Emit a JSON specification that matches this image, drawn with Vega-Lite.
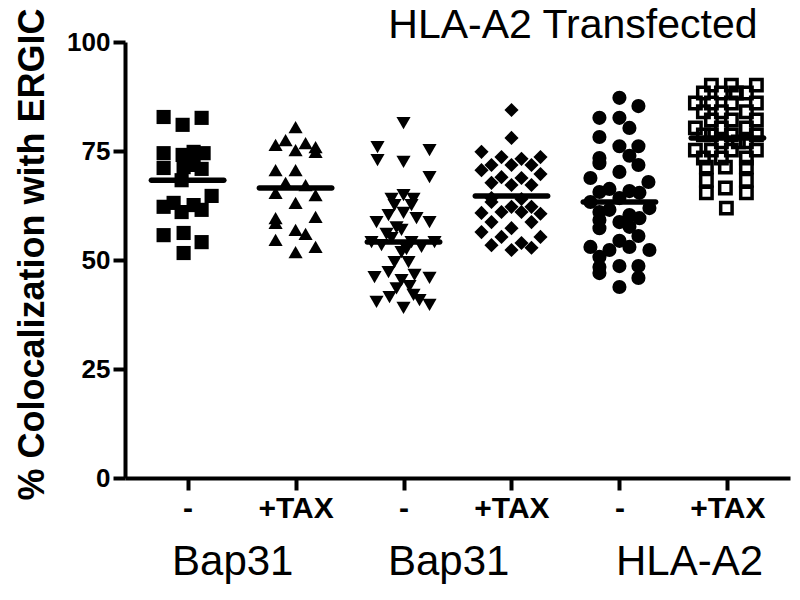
{
  "$schema": "https://vega.github.io/schema/vega-lite/v6.json",
  "width": 665,
  "height": 436,
  "autosize": {"type": "none"},
  "padding": {"left": 125, "top": 42, "right": 10, "bottom": 122},
  "background": "white",
  "config": {
    "view": {"stroke": null},
    "axis": {"domainColor": "black", "domainWidth": 4, "tickColor": "black", "tickWidth": 4, "tickSize": 12, "labelFont": "Liberation Sans", "labelFontWeight": "bold", "labelColor": "black", "grid": false, "titleFont": "Liberation Sans", "titleColor": "black"}
  },
  "datasets": {
    "points": [
      {"group": "B1 -", "dx": -2.4, "value": 82.8}, {"group": "B1 -", "dx": -0.5, "value": 81.0}, {"group": "B1 -", "dx": 1.4, "value": 82.6},
      {"group": "B1 -", "dx": -2.4, "value": 74.5}, {"group": "B1 -", "dx": -0.5, "value": 74.1}, {"group": "B1 -", "dx": 0.6, "value": 74.8}, {"group": "B1 -", "dx": 1.6, "value": 74.5},
      {"group": "B1 -", "dx": -2.4, "value": 71.1}, {"group": "B1 -", "dx": -0.4, "value": 71.3}, {"group": "B1 -", "dx": 0.6, "value": 71.8}, {"group": "B1 -", "dx": 1.4, "value": 70.9},
      {"group": "B1 -", "dx": -0.6, "value": 68.3}, {"group": "B1 -", "dx": 2.4, "value": 64.7}, {"group": "B1 -", "dx": -2.4, "value": 62.2}, {"group": "B1 -", "dx": -1.4, "value": 63.1},
      {"group": "B1 -", "dx": -0.6, "value": 61.0}, {"group": "B1 -", "dx": 0.6, "value": 62.6}, {"group": "B1 -", "dx": 1.4, "value": 61.5}, {"group": "B1 -", "dx": -2.4, "value": 55.7},
      {"group": "B1 -", "dx": -0.4, "value": 56.2}, {"group": "B1 -", "dx": 1.4, "value": 54.1}, {"group": "B1 -", "dx": -0.4, "value": 51.6},

      {"group": "B1 +TAX", "dx": 0, "value": 80.5}, {"group": "B1 +TAX", "dx": -2, "value": 76.4}, {"group": "B1 +TAX", "dx": -1, "value": 77.5}, {"group": "B1 +TAX", "dx": 0, "value": 75.2},
      {"group": "B1 +TAX", "dx": 1, "value": 76.8}, {"group": "B1 +TAX", "dx": 2, "value": 75.9}, {"group": "B1 +TAX", "dx": 2, "value": 74.8}, {"group": "B1 +TAX", "dx": -2, "value": 70.6},
      {"group": "B1 +TAX", "dx": 0, "value": 70.6}, {"group": "B1 +TAX", "dx": -1, "value": 67.7}, {"group": "B1 +TAX", "dx": 1, "value": 67.2}, {"group": "B1 +TAX", "dx": -2, "value": 65.4},
      {"group": "B1 +TAX", "dx": 2, "value": 64.9}, {"group": "B1 +TAX", "dx": 0, "value": 63.1}, {"group": "B1 +TAX", "dx": 2, "value": 59.9}, {"group": "B1 +TAX", "dx": -2, "value": 59.6},
      {"group": "B1 +TAX", "dx": -2, "value": 58.5}, {"group": "B1 +TAX", "dx": 0, "value": 56.9}, {"group": "B1 +TAX", "dx": 1, "value": 56.0}, {"group": "B1 +TAX", "dx": -2, "value": 54.6},
      {"group": "B1 +TAX", "dx": 2, "value": 53.0}, {"group": "B1 +TAX", "dx": 0, "value": 51.8},

      {"group": "B2 -", "dx": 0, "value": 81.4}, {"group": "B2 -", "dx": -2.6, "value": 75.9}, {"group": "B2 -", "dx": -2.6, "value": 72.9}, {"group": "B2 -", "dx": 0, "value": 72.5},
      {"group": "B2 -", "dx": 2.6, "value": 75.2}, {"group": "B2 -", "dx": 2.6, "value": 69.0}, {"group": "B2 -", "dx": 0, "value": 64.9}, {"group": "B2 -", "dx": -0.9, "value": 62.6},
      {"group": "B2 -", "dx": 0.8, "value": 62.6}, {"group": "B2 -", "dx": -2.7, "value": 58.7}, {"group": "B2 -", "dx": -1.5, "value": 60.3}, {"group": "B2 -", "dx": 0, "value": 60.8},
      {"group": "B2 -", "dx": 1.3, "value": 59.6}, {"group": "B2 -", "dx": 2.6, "value": 58.7}, {"group": "B2 -", "dx": -0.2, "value": 56.9}, {"group": "B2 -", "dx": -3.2, "value": 54.1},
      {"group": "B2 -", "dx": -2.2, "value": 53.4}, {"group": "B2 -", "dx": -1.2, "value": 55.0}, {"group": "B2 -", "dx": 0.8, "value": 54.1}, {"group": "B2 -", "dx": 1.8, "value": 53.0},
      {"group": "B2 -", "dx": 3.1, "value": 54.1}, {"group": "B2 -", "dx": -0.2, "value": 51.8}, {"group": "B2 -", "dx": -0.9, "value": 49.5}, {"group": "B2 -", "dx": 0.5, "value": 49.5},
      {"group": "B2 -", "dx": -2.9, "value": 46.1}, {"group": "B2 -", "dx": -1.5, "value": 47.2}, {"group": "B2 -", "dx": -0.2, "value": 45.4}, {"group": "B2 -", "dx": 1.1, "value": 46.6},
      {"group": "B2 -", "dx": 2.6, "value": 45.9}, {"group": "B2 -", "dx": -2.7, "value": 40.4}, {"group": "B2 -", "dx": -1.4, "value": 41.5}, {"group": "B2 -", "dx": 0, "value": 39.0},
      {"group": "B2 -", "dx": 1.0, "value": 42.0}, {"group": "B2 -", "dx": 1.6, "value": 40.8}, {"group": "B2 -", "dx": 2.6, "value": 39.7}, {"group": "B2 -", "dx": -0.7, "value": 57.5},
      {"group": "B2 -", "dx": 0.3, "value": 52.5}, {"group": "B2 -", "dx": -1.2, "value": 64.0}, {"group": "B2 -", "dx": 1.0, "value": 64.0}, {"group": "B2 -", "dx": -1.7, "value": 56.0},
      {"group": "B2 -", "dx": -0.7, "value": 43.5}, {"group": "B2 -", "dx": 0.6, "value": 44.0},

      {"group": "B2 +TAX", "dx": 0, "value": 84.4}, {"group": "B2 +TAX", "dx": 0, "value": 78.0}, {"group": "B2 +TAX", "dx": -3, "value": 74.8}, {"group": "B2 +TAX", "dx": -1, "value": 73.6},
      {"group": "B2 +TAX", "dx": 0, "value": 71.8}, {"group": "B2 +TAX", "dx": 1, "value": 73.2}, {"group": "B2 +TAX", "dx": 2.9, "value": 73.6}, {"group": "B2 +TAX", "dx": -2, "value": 71.8},
      {"group": "B2 +TAX", "dx": -3, "value": 70.6}, {"group": "B2 +TAX", "dx": 2, "value": 71.8}, {"group": "B2 +TAX", "dx": 2.9, "value": 69.7}, {"group": "B2 +TAX", "dx": -1, "value": 69.0},
      {"group": "B2 +TAX", "dx": -2, "value": 67.7}, {"group": "B2 +TAX", "dx": 1, "value": 68.8}, {"group": "B2 +TAX", "dx": 0, "value": 67.2}, {"group": "B2 +TAX", "dx": 2, "value": 67.2},
      {"group": "B2 +TAX", "dx": -3, "value": 60.8}, {"group": "B2 +TAX", "dx": -2, "value": 58.7}, {"group": "B2 +TAX", "dx": -1, "value": 61.0}, {"group": "B2 +TAX", "dx": 0, "value": 62.2},
      {"group": "B2 +TAX", "dx": 1, "value": 61.0}, {"group": "B2 +TAX", "dx": 2, "value": 62.2}, {"group": "B2 +TAX", "dx": 2.9, "value": 60.6}, {"group": "B2 +TAX", "dx": -2, "value": 63.3},
      {"group": "B2 +TAX", "dx": 2, "value": 58.7}, {"group": "B2 +TAX", "dx": -3, "value": 56.4}, {"group": "B2 +TAX", "dx": -1, "value": 55.3}, {"group": "B2 +TAX", "dx": 0, "value": 57.3},
      {"group": "B2 +TAX", "dx": 2.9, "value": 55.3}, {"group": "B2 +TAX", "dx": -2, "value": 53.4}, {"group": "B2 +TAX", "dx": 0, "value": 52.3}, {"group": "B2 +TAX", "dx": 1, "value": 53.9},
      {"group": "B2 +TAX", "dx": 2, "value": 52.8}, {"group": "B2 +TAX", "dx": -2, "value": 64.2}, {"group": "B2 +TAX", "dx": 1, "value": 64.0},

      {"group": "A2 -", "dx": 0, "value": 87.2}, {"group": "A2 -", "dx": 1.9, "value": 85.3}, {"group": "A2 -", "dx": -2, "value": 82.6}, {"group": "A2 -", "dx": 0, "value": 82.6},
      {"group": "A2 -", "dx": 1, "value": 80.3}, {"group": "A2 -", "dx": -2, "value": 78.2}, {"group": "A2 -", "dx": 0, "value": 76.1}, {"group": "A2 -", "dx": 1.9, "value": 76.1},
      {"group": "A2 -", "dx": 1, "value": 73.9}, {"group": "A2 -", "dx": -2, "value": 73.4}, {"group": "A2 -", "dx": -2, "value": 72.2}, {"group": "A2 -", "dx": 1.9, "value": 71.8},
      {"group": "A2 -", "dx": 0, "value": 70.2}, {"group": "A2 -", "dx": -2.9, "value": 68.8}, {"group": "A2 -", "dx": 2.9, "value": 67.9}, {"group": "A2 -", "dx": -2, "value": 65.6},
      {"group": "A2 -", "dx": -1, "value": 66.3}, {"group": "A2 -", "dx": 1, "value": 65.8}, {"group": "A2 -", "dx": 2, "value": 65.4}, {"group": "A2 -", "dx": 0, "value": 64.2},
      {"group": "A2 -", "dx": -2.9, "value": 63.3}, {"group": "A2 -", "dx": 3, "value": 61.9}, {"group": "A2 -", "dx": -2, "value": 61.0}, {"group": "A2 -", "dx": -1, "value": 61.5},
      {"group": "A2 -", "dx": 1, "value": 60.3}, {"group": "A2 -", "dx": 2, "value": 59.6}, {"group": "A2 -", "dx": -2, "value": 59.2}, {"group": "A2 -", "dx": 0, "value": 58.7},
      {"group": "A2 -", "dx": 1, "value": 57.6}, {"group": "A2 -", "dx": -2, "value": 57.3}, {"group": "A2 -", "dx": 1.9, "value": 55.5}, {"group": "A2 -", "dx": -2.9, "value": 53.0},
      {"group": "A2 -", "dx": 0, "value": 54.4}, {"group": "A2 -", "dx": -1, "value": 52.3}, {"group": "A2 -", "dx": 1, "value": 53.0}, {"group": "A2 -", "dx": 3, "value": 52.3},
      {"group": "A2 -", "dx": -2, "value": 50.7}, {"group": "A2 -", "dx": -2, "value": 48.4}, {"group": "A2 -", "dx": 0, "value": 48.6}, {"group": "A2 -", "dx": 1.9, "value": 48.6},
      {"group": "A2 -", "dx": -2, "value": 47.0}, {"group": "A2 -", "dx": 1.9, "value": 45.9}, {"group": "A2 -", "dx": 0, "value": 43.8},

      {"group": "A2 +TAX", "dx": -1.6, "value": 90.1}, {"group": "A2 +TAX", "dx": 0.4, "value": 90.1}, {"group": "A2 +TAX", "dx": 2.9, "value": 90.1},
      {"group": "A2 +TAX", "dx": -2.4, "value": 88.3}, {"group": "A2 +TAX", "dx": -0.6, "value": 88.3}, {"group": "A2 +TAX", "dx": 0.9, "value": 88.3}, {"group": "A2 +TAX", "dx": 1.9, "value": 88.3},
      {"group": "A2 +TAX", "dx": -3.2, "value": 86.0}, {"group": "A2 +TAX", "dx": -1.6, "value": 86.0}, {"group": "A2 +TAX", "dx": 0.4, "value": 86.0}, {"group": "A2 +TAX", "dx": 2.9, "value": 86.0},
      {"group": "A2 +TAX", "dx": -2.4, "value": 84.0}, {"group": "A2 +TAX", "dx": -0.6, "value": 84.0}, {"group": "A2 +TAX", "dx": 1.9, "value": 84.0},
      {"group": "A2 +TAX", "dx": -1.6, "value": 82.1}, {"group": "A2 +TAX", "dx": 0.4, "value": 82.1}, {"group": "A2 +TAX", "dx": 2.9, "value": 82.1},
      {"group": "A2 +TAX", "dx": -3.2, "value": 80.3}, {"group": "A2 +TAX", "dx": -0.6, "value": 80.3}, {"group": "A2 +TAX", "dx": 1.9, "value": 80.3},
      {"group": "A2 +TAX", "dx": -2.4, "value": 78.7}, {"group": "A2 +TAX", "dx": -1.6, "value": 78.7}, {"group": "A2 +TAX", "dx": 0.4, "value": 78.7}, {"group": "A2 +TAX", "dx": 2.9, "value": 78.7},
      {"group": "A2 +TAX", "dx": -0.6, "value": 77.1}, {"group": "A2 +TAX", "dx": 1.1, "value": 77.1}, {"group": "A2 +TAX", "dx": 1.9, "value": 77.1},
      {"group": "A2 +TAX", "dx": -3.2, "value": 75.2}, {"group": "A2 +TAX", "dx": -1.6, "value": 75.2}, {"group": "A2 +TAX", "dx": 0.4, "value": 75.2}, {"group": "A2 +TAX", "dx": 2.9, "value": 75.2},
      {"group": "A2 +TAX", "dx": -2.4, "value": 73.4}, {"group": "A2 +TAX", "dx": -0.6, "value": 73.4}, {"group": "A2 +TAX", "dx": 1.9, "value": 73.4},
      {"group": "A2 +TAX", "dx": -2.1, "value": 71.3}, {"group": "A2 +TAX", "dx": -0.2, "value": 71.3}, {"group": "A2 +TAX", "dx": 1.9, "value": 71.3},
      {"group": "A2 +TAX", "dx": -2.1, "value": 68.3}, {"group": "A2 +TAX", "dx": 1.9, "value": 68.3}, {"group": "A2 +TAX", "dx": -0.2, "value": 66.5},
      {"group": "A2 +TAX", "dx": -2.1, "value": 65.4}, {"group": "A2 +TAX", "dx": 1.9, "value": 65.4}, {"group": "A2 +TAX", "dx": -0.1, "value": 61.9}
    ],
    "means": [
      {"group": "B1 -", "value": 68.3}, {"group": "B1 +TAX", "value": 66.5}, {"group": "B2 -", "value": 54.1},
      {"group": "B2 +TAX", "value": 64.7}, {"group": "A2 -", "value": 63.3}, {"group": "A2 +TAX", "value": 78.0}
    ],
    "proteins": [
      {"protein": "Bap31", "at": 1.4}, {"protein": "Bap31", "at": 3.4}, {"protein": "HLA-A2", "at": 5.63}
    ]
  },
  "layer": [
    {
      "encoding": {
        "x": {"field": "group", "type": "nominal", "sort": null,
          "scale": {"type": "point", "domain": ["B1 -", "B1 +TAX", "B2 -", "B2 +TAX", "A2 -", "A2 +TAX"], "padding": 0.58},
          "axis": {"orient": "bottom", "title": null, "labelAngle": 0, "labelFontSize": 30, "labelPadding": 3, "labelExpr": "split(datum.label, ' ')[1]"}},
        "y": {"field": "value", "type": "quantitative",
          "scale": {"domain": [0, 100], "nice": false, "zero": true},
          "axis": {"values": [0, 25, 50, 75, 100], "labelFontSize": 26, "labelPadding": 3, "title": "% Colocalization with ERGIC", "titleFontSize": 36, "titleFontWeight": "bold", "titleX": -82, "titleY": 212, "titleAngle": -90, "titleAlign": "center", "titleBaseline": "alphabetic"}}
      },
      "layer": [
        {
          "data": {"name": "points"},
          "transform": [{"filter": "datum.group != 'A2 +TAX'"}],
          "mark": {"type": "point", "filled": true, "color": "black", "opacity": 1, "size": 200, "strokeWidth": 0},
          "encoding": {
            "xOffset": {"field": "dx", "type": "quantitative", "scale": {"domain": [-4, 4], "range": [-40, 40]}},
            "shape": {"field": "group", "type": "nominal", "legend": null,
              "scale": {"domain": ["B1 -", "B1 +TAX", "B2 -", "B2 +TAX", "A2 -", "A2 +TAX"], "range": ["square", "triangle-up", "triangle-down", "diamond", "circle", "square"]}}
          }
        },
        {
          "data": {"name": "points"},
          "transform": [{"filter": "datum.group == 'A2 +TAX'"}],
          "mark": {"type": "point", "shape": "square", "filled": false, "fill": "white", "fillOpacity": 0, "stroke": "black", "strokeWidth": 3.5, "opacity": 1, "size": 130},
          "encoding": {
            "xOffset": {"field": "dx", "type": "quantitative", "scale": {"domain": [-4, 4], "range": [-40, 40]}}
          }
        },
        {
          "data": {"name": "means"},
          "mark": {"type": "tick", "color": "black", "size": 78, "thickness": 5.5, "opacity": 1, "cornerRadius": 2.75}
        }
      ]
    },
    {
      "data": {"name": "proteins"},
      "mark": {"type": "rule", "opacity": 0},
      "encoding": {
        "x": {"field": "at", "type": "quantitative",
          "scale": {"domain": [0.407, 6.565], "nice": false, "zero": false},
          "axis": {"orient": "bottom", "title": null, "domain": false, "ticks": false, "values": [1.4, 3.4, 5.63], "labelExpr": "datum.value > 5 ? 'HLA-A2' : 'Bap31'", "labelFontSize": 42, "labelFontWeight": "normal", "labelBaseline": "alphabetic", "labelPadding": 96, "labelFlush": false, "labelOverlap": false}}
      }
    },
    {
      "data": {"name": "proteins"},
      "mark": {"type": "rule", "opacity": 0},
      "encoding": {
        "x": {"field": "at", "type": "quantitative",
          "scale": {"domain": [0.407, 6.565], "nice": false, "zero": false},
          "axis": {"orient": "top", "domain": false, "ticks": false, "labels": false, "title": "HLA-A2 Transfected", "titleFontSize": 41, "titleFontWeight": "normal", "titleX": 632, "titleY": -5, "titleAlign": "right", "titleAnchor": "end", "titleBaseline": "alphabetic", "titleAngle": 0}}
      }
    }
  ],
  "resolve": {"scale": {"x": "independent"}, "axis": {"x": "independent"}}
}
